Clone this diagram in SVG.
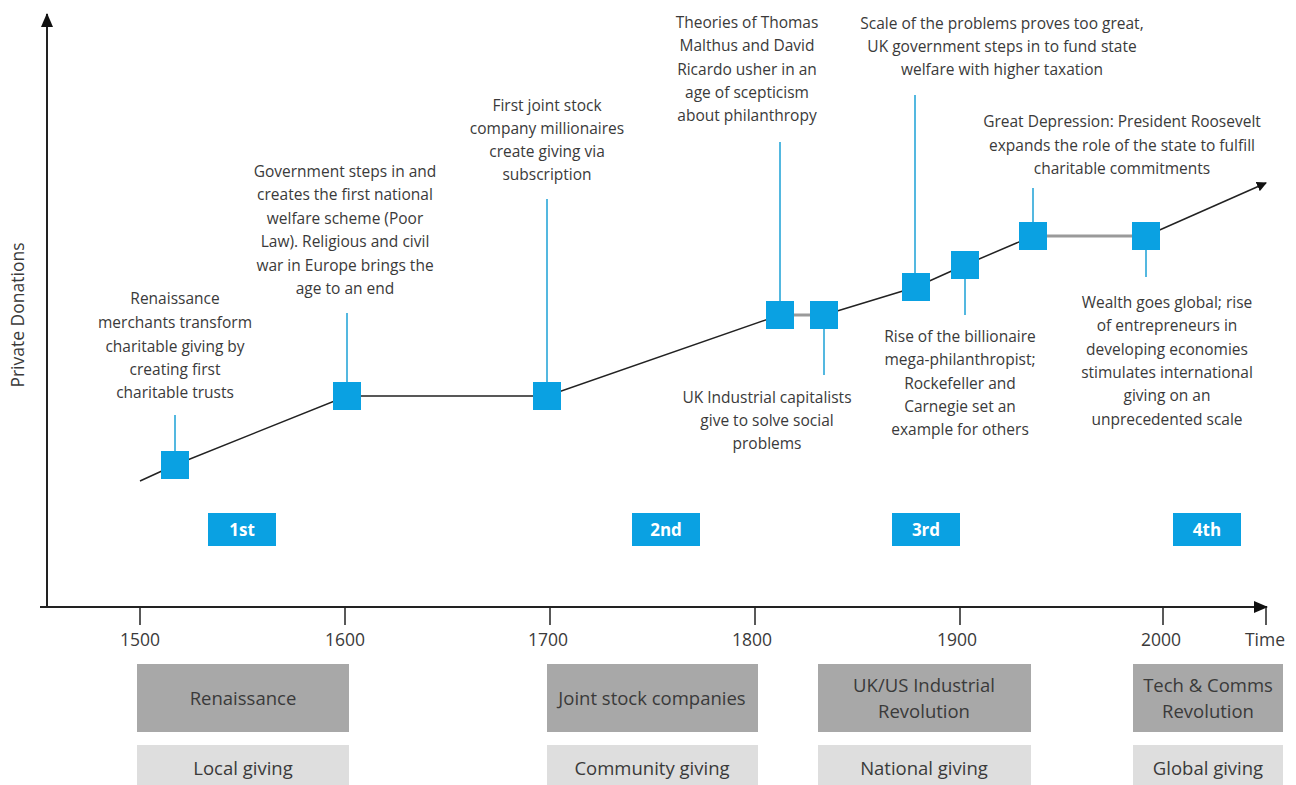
<svg xmlns="http://www.w3.org/2000/svg" width="1296" height="785" viewBox="0 0 1296 785">
<style>
.t{font-family:"Open Sans","Liberation Sans",sans-serif;font-size:15.5px;fill:#3a3a3a;text-anchor:middle}
.yr{font-family:"Open Sans","Liberation Sans",sans-serif;font-size:17.5px;fill:#3a3a3a;text-anchor:middle}
.yl{font-family:"Open Sans","Liberation Sans",sans-serif;font-size:17.5px;fill:#3a3a3a;text-anchor:middle}
.bx{font-family:"Open Sans","Liberation Sans",sans-serif;font-size:18.5px;fill:#3a3a3a;text-anchor:middle}
.wave{font-family:"Open Sans","Liberation Sans",sans-serif;font-size:17px;font-weight:bold;fill:#fff;text-anchor:middle}
.sq{fill:#0aa1e2}
.stem{stroke:#1ba0d6;stroke-width:1.5;fill:none}
.dark{fill:#a8a8a8}
.light{fill:#dedede}
.ax{stroke:#222;stroke-width:2;fill:none}
.tr{stroke:#222;stroke-width:1.5;fill:none}
.gr{stroke:#9a9a9a;stroke-width:3;fill:none}
</style>
<defs>
<marker id="ah" markerWidth="10" markerHeight="10" refX="9" refY="5" orient="auto" markerUnits="userSpaceOnUse" viewBox="0 0 10 10">
<path d="M0,0 L10,5 L0,10 z" fill="#111"/>
</marker>
<marker id="ah2" markerWidth="14" markerHeight="12" refX="13" refY="6" orient="auto" markerUnits="userSpaceOnUse" viewBox="0 0 14 12">
<path d="M0,0 L14,6 L0,12 z" fill="#111"/>
</marker>
</defs>
<rect width="1296" height="785" fill="#fff"/>
<g id="axes">
<line class="ax" x1="47" y1="607" x2="47" y2="14" marker-end="url(#ah2)"/>
<line class="ax" x1="40" y1="607" x2="1267" y2="607" marker-end="url(#ah2)"/>
<g stroke="#222" stroke-width="1.5">
<line x1="140" y1="607" x2="140" y2="625"/>
<line x1="345" y1="607" x2="345" y2="625"/>
<line x1="550" y1="607" x2="550" y2="625"/>
<line x1="755" y1="607" x2="755" y2="625"/>
<line x1="960" y1="607" x2="960" y2="625"/>
<line x1="1163" y1="607" x2="1163" y2="625"/>
<line x1="1266" y1="607" x2="1266" y2="625"/>
</g>
<text class="yr" x="140" y="646">1500</text>
<text class="yr" x="345" y="646">1600</text>
<text class="yr" x="548" y="646">1700</text>
<text class="yr" x="752" y="646">1800</text>
<text class="yr" x="957" y="646">1900</text>
<text class="yr" x="1161" y="646">2000</text>
<text class="yr" x="1265" y="646">Time</text>
<text class="yl" transform="translate(24,315) rotate(-90)">Private Donations</text>
</g>
<g id="connectors">
<polyline class="tr" points="140,481 175,465 347,396 547,396 780,315"/>
<line class="gr" x1="780" y1="315" x2="824" y2="315"/>
<polyline class="tr" points="824,315 916,287 965,265 1033,236"/>
<line class="gr" x1="1033" y1="236" x2="1146" y2="236"/>
<line class="tr" x1="1146" y1="236" x2="1266" y2="183" marker-end="url(#ah)"/>
<line class="stem" x1="175" y1="452" x2="175" y2="415"/>
<line class="stem" x1="347" y1="383" x2="347" y2="313"/>
<line class="stem" x1="547" y1="383" x2="547" y2="199"/>
<line class="stem" x1="780" y1="302" x2="780" y2="142"/>
<line class="stem" x1="824" y1="328" x2="824" y2="375"/>
<line class="stem" x1="915" y1="274" x2="915" y2="95"/>
<line class="stem" x1="965" y1="278" x2="965" y2="315"/>
<line class="stem" x1="1033" y1="223" x2="1033" y2="188"/>
<line class="stem" x1="1146" y1="249" x2="1146" y2="277"/>
</g>
<g id="n1"><rect class="sq" x="161" y="451" width="28" height="28"/>
<text class="t"><tspan x="175" y="304">Renaissance</tspan><tspan x="175" y="328">merchants transform</tspan><tspan x="175" y="352">charitable giving by</tspan><tspan x="175" y="375">creating first</tspan><tspan x="175" y="398">charitable trusts</tspan></text></g>
<g id="n2"><rect class="sq" x="333" y="382" width="28" height="28"/>
<text class="t"><tspan x="345" y="177">Government steps in and</tspan><tspan x="345" y="200">creates the first national</tspan><tspan x="345" y="224">welfare scheme (Poor</tspan><tspan x="345" y="247">Law). Religious and civil</tspan><tspan x="345" y="271">war in Europe brings the</tspan><tspan x="345" y="294">age to an end</tspan></text></g>
<g id="n3"><rect class="sq" x="533" y="382" width="28" height="28"/>
<text class="t"><tspan x="547" y="111">First joint stock</tspan><tspan x="547" y="134">company millionaires</tspan><tspan x="547" y="157">create giving via</tspan><tspan x="547" y="180">subscription</tspan></text></g>
<g id="n4"><rect class="sq" x="766" y="301" width="28" height="28"/>
<text class="t"><tspan x="747" y="28">Theories of Thomas</tspan><tspan x="747" y="51">Malthus and David</tspan><tspan x="747" y="75">Ricardo usher in an</tspan><tspan x="747" y="98">age of scepticism</tspan><tspan x="747" y="121">about philanthropy</tspan></text></g>
<g id="n5"><rect class="sq" x="810" y="301" width="28" height="28"/>
<text class="t"><tspan x="767" y="403">UK Industrial capitalists</tspan><tspan x="767" y="426">give to solve social</tspan><tspan x="767" y="449">problems</tspan></text></g>
<g id="n6"><rect class="sq" x="902" y="273" width="28" height="28"/>
<text class="t"><tspan x="1002" y="29">Scale of the problems proves too great,</tspan><tspan x="1002" y="52">UK government steps in to fund state</tspan><tspan x="1002" y="75">welfare with higher taxation</tspan></text></g>
<g id="n7"><rect class="sq" x="951" y="251" width="28" height="28"/>
<text class="t"><tspan x="960" y="342">Rise of the billionaire</tspan><tspan x="960" y="365">mega-philanthropist;</tspan><tspan x="960" y="389">Rockefeller and</tspan><tspan x="960" y="412">Carnegie set an</tspan><tspan x="960" y="435">example for others</tspan></text></g>
<g id="n8"><rect class="sq" x="1019" y="222" width="28" height="28"/>
<text class="t"><tspan x="1122" y="127">Great Depression: President Roosevelt</tspan><tspan x="1122" y="151">expands the role of the state to fulfill</tspan><tspan x="1122" y="174">charitable commitments</tspan></text></g>
<g id="n9"><rect class="sq" x="1132" y="222" width="28" height="28"/>
<text class="t"><tspan x="1167" y="308">Wealth goes global; rise</tspan><tspan x="1167" y="331">of entrepreneurs in</tspan><tspan x="1167" y="355">developing economies</tspan><tspan x="1167" y="378">stimulates international</tspan><tspan x="1167" y="401">giving on an</tspan><tspan x="1167" y="425">unprecedented scale</tspan></text></g>
<g id="w1"><rect class="sq" x="208" y="513" width="68" height="33"/><text class="wave" x="242" y="536">1st</text></g>
<g id="w2"><rect class="sq" x="632" y="513" width="68" height="33"/><text class="wave" x="666" y="536">2nd</text></g>
<g id="w3"><rect class="sq" x="892" y="513" width="68" height="33"/><text class="wave" x="926" y="536">3rd</text></g>
<g id="w4"><rect class="sq" x="1173" y="513" width="68" height="33"/><text class="wave" x="1207" y="536">4th</text></g>
<g id="b1"><rect class="dark" x="137" y="664" width="212" height="68"/><text class="bx" x="243" y="705">Renaissance</text></g>
<g id="b2"><rect class="dark" x="547" y="664" width="211" height="68"/><text class="bx" x="652" y="705">Joint stock companies</text></g>
<g id="b3"><rect class="dark" x="818" y="664" width="213" height="68"/><text class="bx"><tspan x="924" y="692">UK/US Industrial</tspan><tspan x="924" y="718">Revolution</tspan></text></g>
<g id="b4"><rect class="dark" x="1133" y="664" width="150" height="68"/><text class="bx"><tspan x="1208" y="692">Tech &amp; Comms</tspan><tspan x="1208" y="718">Revolution</tspan></text></g>
<g id="c1"><rect class="light" x="137" y="745" width="212" height="45"/><text class="bx" x="243" y="775">Local giving</text></g>
<g id="c2"><rect class="light" x="547" y="745" width="211" height="45"/><text class="bx" x="652" y="775">Community giving</text></g>
<g id="c3"><rect class="light" x="818" y="745" width="213" height="45"/><text class="bx" x="924" y="775">National giving</text></g>
<g id="c4"><rect class="light" x="1133" y="745" width="150" height="45"/><text class="bx" x="1208" y="775">Global giving</text></g>
</svg>
